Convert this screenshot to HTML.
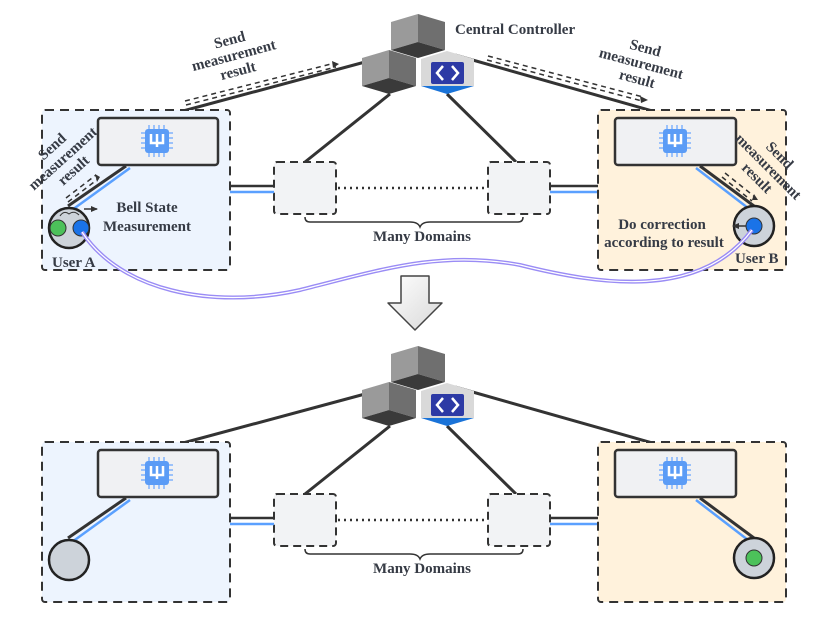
<!DOCTYPE html>
<html><head><meta charset="utf-8"><style>
html,body{margin:0;padding:0;background:#fff;}
svg{display:block;}
text{font-family:"Liberation Serif",serif;font-weight:bold;fill:#363b45;}
</style></head><body>
<svg width="830" height="626" viewBox="0 0 830 626" xmlns="http://www.w3.org/2000/svg">
<defs>
<marker id="ah" markerWidth="8" markerHeight="8" refX="6" refY="4" orient="auto" markerUnits="userSpaceOnUse"><path d="M0,1 L7,4 L0,7 Z" fill="#333"/></marker>
<linearGradient id="ag" x1="0" y1="0" x2="1" y2="1"><stop offset="0" stop-color="#fff"/><stop offset="1" stop-color="#d8d8d8"/></linearGradient>
<g id="chip">
  <rect x="-12" y="-12" width="24" height="24" rx="3" fill="#5b9cf6"/>
  <g stroke="#9cc2fa" stroke-width="2">
    <path d="M-8,-16v4M-3,-16v4M2,-16v4M7,-16v4M-8,12v4M-3,12v4M2,12v4M7,12v4M-16,-8h4M-16,-3h4M-16,2h4M-16,7h4M12,-8h4M12,-3h4M12,2h4M12,7h4"/>
  </g>
  <path d="M-6,-7v9h12v-9M0,-7v13" stroke="#fff" stroke-width="2.5" fill="none"/>
</g>
<g id="cube">
  <path d="M0,8 L27,0 L27,28 L0,36Z" fill="#9a9a9a"/>
  <path d="M27,0 L54,8 L54,36 L27,28Z" fill="#6f6f6f"/>
  <path d="M0,36 L27,28 L54,36 L27,44Z" fill="#3a3a3a"/>
</g>
<g id="ctrl">
  <use href="#cube" x="391" y="14"/>
  <use href="#cube" x="362" y="50"/>
  <path d="M421,59 L447,51 L474,59 L474,86 L421,86Z" fill="#d9d9d9"/>
  <rect x="431" y="62" width="33" height="22" rx="2" fill="#2d3aa5"/>
  <path d="M443,66 l-6,7 l6,7 M452,66 l6,7 l-6,7" stroke="#fff" stroke-width="2.5" fill="none"/>
  <path d="M421,86 L474,86 L447,94Z" fill="#1a73d8"/>
</g>
<g id="mid">
  <line x1="390" y1="94" x2="305" y2="162" stroke="#333" stroke-width="3"/>
  <line x1="447" y1="94" x2="516" y2="162" stroke="#333" stroke-width="3"/>
  <rect x="274" y="162" width="62" height="52" rx="3" fill="#f2f3f5" stroke="#333" stroke-width="2" stroke-dasharray="8,5"/>
  <rect x="488" y="162" width="62" height="52" rx="3" fill="#f2f3f5" stroke="#333" stroke-width="2" stroke-dasharray="8,5"/>
  <line x1="338" y1="188" x2="486" y2="188" stroke="#333" stroke-width="2.5" stroke-dasharray="2,4"/>
  <line x1="230" y1="186" x2="274" y2="186" stroke="#333" stroke-width="2.5"/>
  <line x1="230" y1="192" x2="274" y2="192" stroke="#5aa0ff" stroke-width="2.5"/>
  <line x1="550" y1="186" x2="598" y2="186" stroke="#333" stroke-width="2.5"/>
  <line x1="550" y1="192" x2="598" y2="192" stroke="#5aa0ff" stroke-width="2.5"/>
  <path d="M305,217 q0,5 5,5 H410 q8,0 10,5 q2,-5 10,-5 H518 q5,0 5,-5" fill="none" stroke="#333" stroke-width="1.5"/>
  <text x="422" y="241" font-size="15" text-anchor="middle">Many Domains</text>
  <rect x="42" y="110" width="188" height="160" rx="3" fill="#edf4fe" stroke="#333" stroke-width="2" stroke-dasharray="9,6"/>
  <rect x="598" y="110" width="188" height="160" rx="3" fill="#fff2dc" stroke="#333" stroke-width="2" stroke-dasharray="9,6"/>
  <line x1="68" y1="206" x2="126" y2="166" stroke="#333" stroke-width="3"/>
  <line x1="72" y1="210" x2="130" y2="168" stroke="#5aa0ff" stroke-width="2.5"/>
  <line x1="700" y1="166" x2="754" y2="206" stroke="#333" stroke-width="3"/>
  <line x1="696" y1="168" x2="748" y2="208" stroke="#5aa0ff" stroke-width="2.5"/>
  <rect x="98" y="118" width="120" height="47" rx="3" fill="#f0f1f3" stroke="#333" stroke-width="2.5"/>
  <rect x="615" y="118" width="121" height="47" rx="3" fill="#f0f1f3" stroke="#333" stroke-width="2.5"/>
  <use href="#chip" x="157" y="141"/>
  <use href="#chip" x="675" y="141"/>
</g>
</defs>

<!-- TOP -->
<line x1="157" y1="118" x2="365" y2="62" stroke="#333" stroke-width="3"/>
<line x1="455" y1="55" x2="677" y2="118" stroke="#333" stroke-width="3"/>
<use href="#mid"/>
<use href="#ctrl"/>
<circle cx="69" cy="228" r="20" fill="#cdd3da" stroke="#222" stroke-width="2.5"/>
<path d="M60,216 q4,-6 9,-2 q5,-4 10,1" fill="none" stroke="#333" stroke-width="1"/>
<circle cx="58" cy="228" r="8" fill="#4cc15a" stroke="#333" stroke-width="1"/>
<circle cx="81" cy="228" r="8" fill="#1a73e8" stroke="#333" stroke-width="1"/>
<circle cx="754" cy="226" r="20" fill="#cdd3da" stroke="#222" stroke-width="2.5"/>
<circle cx="754" cy="226" r="8" fill="#1a73e8" stroke="#333" stroke-width="1"/>
<path d="M82,232 C120,290 210,310 300,290 C380,270 440,250 520,265 C600,285 700,300 752,230" fill="none" stroke="#9a8cf5" stroke-width="4"/>
<path d="M82,232 C120,290 210,310 300,290 C380,270 440,250 520,265 C600,285 700,300 752,230" fill="none" stroke="#fff" stroke-width="1.2"/>
<text x="52" y="267" font-size="15">User A</text>
<text x="735" y="263" font-size="15">User B</text>
<text x="147" y="212" font-size="15" text-anchor="middle">Bell State</text>
<text x="147" y="231" font-size="15" text-anchor="middle">Measurement</text>
<line x1="84" y1="209" x2="97" y2="209" stroke="#333" stroke-width="1.5" marker-end="url(#ah)"/>
<text x="662" y="229" font-size="15" text-anchor="middle">Do correction</text>
<text x="664" y="247" font-size="15" text-anchor="middle">according to result</text>
<line x1="746" y1="226" x2="733" y2="226" stroke="#333" stroke-width="1.5" marker-end="url(#ah)"/>
<text x="455" y="34" font-size="15">Central Controller</text>
<!-- dashed arrows -->
<g stroke="#333" stroke-width="1.5" stroke-dasharray="5,4" fill="none">
<line x1="185" y1="101" x2="335" y2="63"/><line x1="186" y1="105" x2="336" y2="67"/>
<line x1="488" y1="56" x2="643" y2="97"/><line x1="487" y1="60" x2="642" y2="101"/>
<line x1="66" y1="198" x2="96" y2="175"/><line x1="68" y1="202" x2="98" y2="179"/>
<line x1="725" y1="173" x2="755" y2="197"/><line x1="722" y1="177" x2="752" y2="201"/>
</g>
<path d="M332,61 l7,3 l-6,4Z" fill="#333"/>
<path d="M640,96 l8,4 l-7,3Z" fill="#333"/>
<path d="M95,174 l5,3 l-3,5Z" fill="#333"/>
<path d="M754,194 l4,6 l-6,0Z" fill="#333"/>
<g font-size="15" text-anchor="middle">
<g transform="translate(235,60) rotate(-15)"><text y="-16">Send</text><text y="0">measurement</text><text y="16">result</text></g>
<g transform="translate(640,68) rotate(15)"><text y="-16">Send</text><text y="0">measurement</text><text y="16">result</text></g>
<g transform="translate(66,162) rotate(-42)"><text y="-16">Send</text><text y="0">measurement</text><text y="16">result</text></g>
<g transform="translate(765,170) rotate(45)"><text y="-16">Send</text><text y="0">measurement</text><text y="16">result</text></g>
</g>
<!-- big arrow -->
<path d="M401,276 H429 V303 H442 L415,330 L388,303 H401 Z" fill="url(#ag)" stroke="#444" stroke-width="1.5" stroke-linejoin="round"/>

<!-- BOTTOM -->
<g transform="translate(0,332)">
<line x1="157" y1="118" x2="365" y2="62" stroke="#333" stroke-width="3"/>
<line x1="455" y1="55" x2="677" y2="118" stroke="#333" stroke-width="3"/>
<use href="#mid"/>
<use href="#ctrl"/>
<circle cx="69" cy="228" r="20" fill="#cdd3da" stroke="#222" stroke-width="2.5"/>
<circle cx="754" cy="226" r="20" fill="#cdd3da" stroke="#222" stroke-width="2.5"/>
<circle cx="754" cy="226" r="8" fill="#4cc15a" stroke="#333" stroke-width="1"/>
</g>
</svg>
</body></html>
